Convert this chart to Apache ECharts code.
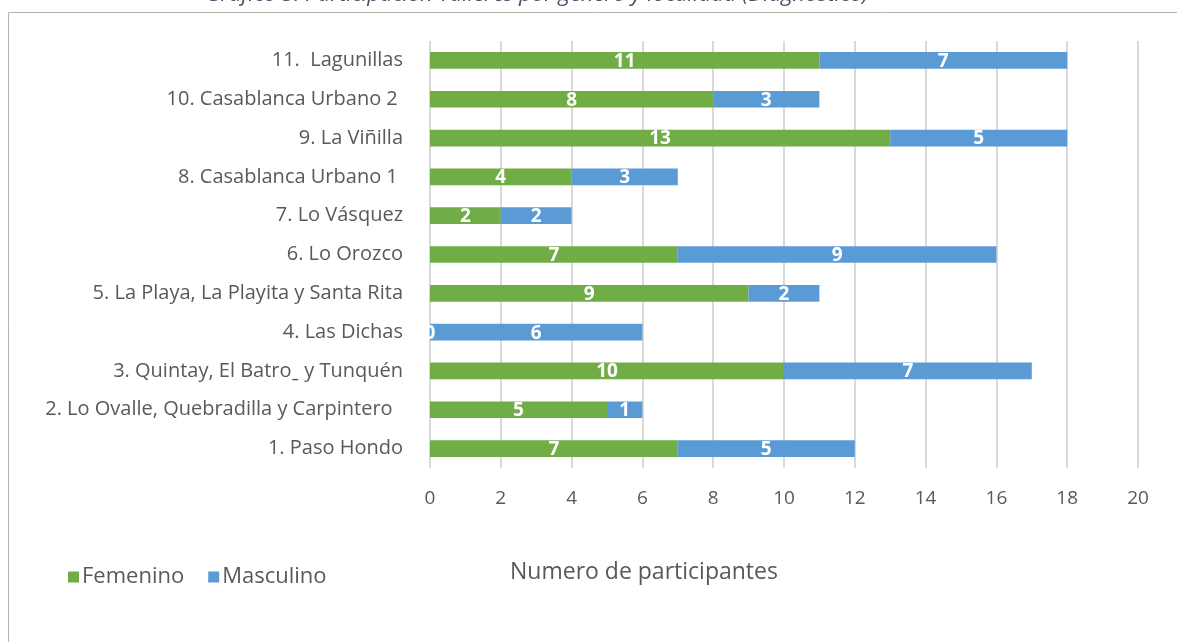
<!DOCTYPE html>
<html>
<head>
<meta charset="utf-8">
<script src="https://cdn.jsdelivr.net/npm/echarts@6/dist/echarts.min.js"></script>
<style>
  html, body { margin: 0; padding: 0; background: #fff; }
  #chart { width: 1177px; height: 642px; }
</style>
</head>
<body>
<div id="chart"></div>
<script>
// localidades, de abajo hacia arriba
const localidades = [
  "1. Paso Hondo",
  "2. Lo Ovalle, Quebradilla y Carpintero  ",
  "3. Quintay, El Batro\u02CD y Tunquén",
  "4. Las Dichas",
  "5. La Playa, La Playita y Santa Rita",
  "6. Lo Orozco",
  "7. Lo Vásquez",
  "8. Casablanca Urbano 1 ",
  "9. La Viñilla",
  "10. Casablanca Urbano 2 ",
  "11.  Lagunillas"
];
const femenino = [7, 5, 10, 0, 9, 7, 2, 4, 13, 8, 11];
const masculino = [5, 1, 7, 6, 2, 9, 2, 3, 5, 3, 7];

const font = "'Open Sans', 'Noto Sans', sans-serif";
const gris = "#595959";

const chart = echarts.init(document.getElementById("chart"));

const etiqueta = {
  show: true,
  position: "inside",
  color: "#fff",
  fontWeight: "bold",
  fontSize: 19,
  fontFamily: font,
  offset: [0, 1],
};

const option = {
  animation: false,
  title: {
    text: "Gráfico 3. Participación Talleres por género y localidad (Diagnóstico)",
    left: 537,
    textAlign: "center",
    top: -16,
    padding: 0,
    textStyle: {
      fontFamily: font,
      fontStyle: "italic",
      fontWeight: "normal",
      fontSize: 22,
      color: "#44546A",
    },
  },
  graphic: [
    {
      type: "rect",
      shape: { x: 8.5, y: 12.5, width: 1300, height: 800 },
      style: { fill: null, stroke: "#b3b3b3", lineWidth: 1 },
      silent: true,
    },
    {
      type: "text",
      left: 510,
      top: 561,
      style: {
        text: "Numero de participantes",
        fontFamily: font,
        fontSize: 23,
        fill: gris,
      },
    },
  ],
  legend: {
    left: 63,
    top: 561,
    itemWidth: 11,
    itemHeight: 11,
    itemGap: 24,
    icon: "rect",
    data: ["Femenino", "Masculino"],
    textStyle: { fontFamily: font, fontSize: 22, color: gris, padding: [0, 0, 0, -2] },
  },
  grid: {
    left: 430,
    right: 39,
    top: 41,
    bottom: 174,
    containLabel: false,
  },
  xAxis: {
    type: "value",
    min: 0,
    max: 20,
    interval: 2,
    axisLine: { show: false },
    axisTick: { show: false },
    splitLine: { lineStyle: { color: "#d9d9d9", width: 2 } },
    axisLabel: { margin: 21, fontFamily: font, fontSize: 19, color: gris },
  },
  yAxis: {
    type: "category",
    data: localidades,
    axisLine: { show: false },
    axisTick: { show: false },
    axisLabel: { margin: 27, fontFamily: font, fontSize: 20, color: gris },
  },
  series: [
    {
      name: "Femenino",
      type: "bar",
      stack: "total",
      data: femenino,
      barCategoryGap: "57%",
      itemStyle: { color: "#70AD47" },
      label: etiqueta,
    },
    {
      name: "Masculino",
      type: "bar",
      stack: "total",
      data: masculino,
      barCategoryGap: "57%",
      itemStyle: { color: "#5B9BD5" },
      label: etiqueta,
    },
  ],
};

chart.setOption(option);
</script>
</body>
</html>
